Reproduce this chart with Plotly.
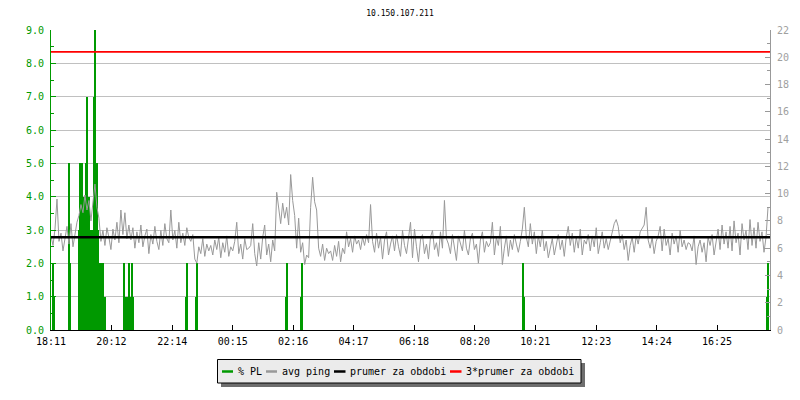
import plotly.graph_objects as go

# ---------------- data ----------------
title_text = "10.150.107.211"
tick_labels = ["18:11", "20:12", "22:14", "00:15", "02:16", "04:17",
               "06:18", "08:20", "10:21", "12:23", "14:24", "16:25"]
period_minutes = 1440          # 24 h shown
ping_step = 4                  # minutes between avg ping samples

# % packet loss (minute offset from 18:11, value in %)
pl_minutes = [4, 6, 36, 38,
              56, 58, 60, 62, 64, 66, 68, 70, 72, 74, 76, 78, 80,
              84, 86, 88, 90, 92, 94, 96, 98, 100, 102, 104, 106, 108,
              146, 148, 150, 154, 156, 158, 160, 162, 164,
              270, 272, 290, 292, 470, 472, 500, 502, 946, 948, 1434, 1436]
pl_values = [2.0, 1.0, 5.0, 2.0,
             3.0, 5.0, 3.0, 5.0, 3.0, 4.0, 3.0, 5.0, 7.0, 3.0, 4.0, 3.0, 3.0,
             3.0, 7.0, 9.0, 5.0, 5.0, 3.0, 2.0, 2.0, 2.0, 2.0, 2.0, 1.0, 1.0,
             2.0, 1.0, 1.0, 1.0, 2.0, 1.0, 1.0, 2.0, 1.0,
             1.0, 2.0, 1.0, 2.0, 1.0, 2.0, 1.0, 2.0, 2.0, 1.0, 1.0, 2.0]

# avg ping in ms, one value every ping_step minutes
avg_ping = [
    6.9, 6.2, 7.4, 9.6, 6.5, 7.1, 5.8, 6.9, 7.6, 6.3, 7.8, 6.1, 7.2, 7.9, 8.4, 9.2, 8.6, 9.9, 8.8, 9.5,
    8.0, 9.3, 10.7, 9.0, 8.2, 6.5, 7.3, 6.2, 7.5, 6.8, 5.9, 7.4, 6.6, 7.9, 6.4, 8.8, 7.0, 8.6, 6.7, 7.7,
    6.6, 7.5, 6.0, 7.2, 6.4, 7.7, 6.1, 6.9, 7.4, 5.6, 7.0, 6.3, 7.6, 6.5, 5.9, 7.3, 6.2, 7.8, 6.7, 6.4,
    8.8, 6.6, 7.3, 6.0, 7.9, 6.4, 7.1, 6.2, 7.5, 6.8, 6.5, 7.0, 5.2, 4.9, 6.1, 5.6, 6.7, 5.4, 6.3, 5.8,
    6.2, 5.5, 6.6, 5.9, 6.8, 5.3, 6.4, 5.7, 6.9, 5.4, 6.1, 5.8, 6.5, 7.9, 5.6, 6.3, 5.2, 6.7, 5.9, 6.0,
    6.2, 7.8, 5.6, 4.7, 6.4, 5.2, 6.8, 7.7, 5.5, 6.3, 5.0, 6.6, 5.8, 10.1, 8.8, 7.8, 9.3, 8.2, 9.0, 7.7,
    11.4, 9.5, 8.4, 6.0, 8.2, 5.7, 6.4, 4.8, 5.5, 5.3, 9.0, 11.2, 9.4, 8.8, 6.0, 5.4, 6.3, 5.1, 6.0, 5.6,
    5.8, 5.1, 6.2, 5.4, 6.5, 5.0, 6.0, 5.6, 7.2, 6.1, 6.7, 5.7, 6.9, 6.3, 6.6, 5.9, 6.8, 6.2, 7.0, 6.4,
    9.2, 6.5, 5.7, 7.1, 6.0, 6.8, 5.2, 6.6, 7.2, 5.5, 6.3, 6.9, 5.8, 7.0, 6.1, 5.4, 7.3, 6.2, 5.6, 6.7,
    7.9, 5.3, 7.4, 6.1, 5.0, 6.6, 7.0, 5.6, 6.3, 5.2, 6.8, 7.3, 5.9, 6.4, 5.4, 7.2, 6.0, 9.5, 6.7, 6.3,
    5.6, 7.0, 6.2, 5.1, 6.9, 6.4, 5.8, 7.3, 6.0, 5.5, 6.7, 7.1, 5.9, 6.3, 4.9, 6.6, 7.2, 5.7, 6.5, 6.1,
    6.4, 7.9, 5.5, 6.8, 6.2, 7.6, 4.8, 6.0, 6.9, 5.4, 6.6, 5.9, 7.0, 6.3, 5.7, 6.5, 7.4, 9.0, 6.8, 6.1,
    7.8, 6.3, 7.2, 5.6, 6.9, 6.1, 7.3, 5.8, 6.5, 5.3, 6.0, 6.7, 5.5, 6.4, 7.0, 5.9, 6.6, 5.4, 6.8, 7.6,
    6.2, 7.1, 5.7, 6.8, 6.0, 7.4, 5.5, 6.6, 6.3, 7.0, 5.8, 6.9, 6.1, 7.5, 5.6, 6.4, 7.2, 6.0, 6.7, 5.9,
    6.5, 7.3, 7.8, 8.1, 7.6, 6.4, 7.0, 5.9, 6.6, 5.1, 6.2, 6.8, 5.7, 6.9, 6.3, 7.2, 7.5, 7.7, 9.0, 6.6,
    6.0, 6.8, 5.6, 6.5, 6.9, 7.6, 5.8, 7.4, 6.2, 6.7, 5.5, 7.1, 6.3, 6.9, 5.7, 7.3, 6.1, 6.6, 5.9, 6.4,
    6.3, 5.8, 6.9, 4.8, 6.1, 6.6, 5.7, 6.4, 5.0, 6.8, 6.2, 7.0, 5.5, 6.5, 7.4, 5.9, 7.7, 6.3, 7.2, 6.0,
    7.6, 5.8, 8.0, 6.4, 7.1, 5.5, 7.8, 6.6, 7.3, 5.9, 8.1, 6.2, 7.5, 6.0, 7.9, 6.5, 7.2, 5.7, 6.8, 9.0,
]
ping_mean = 6.8                # "prumer za obdobi"
mean_factor = 3                # "3*prumer za obdobi"

legend_names = ["% PL", "avg ping", "prumer za obdobi", "3*prumer za obdobi"]

# ---------------- styles ----------------
GREEN = "#009900"
GRAY = "#999999"
FONT = "DejaVu Sans Mono"
BODY = 8                       # default page body margin around the plot div
W, H = 800 - 2 * BODY, 400 - 2 * BODY
PLOT_X0, PLOT_X1, PLOT_Y0, PLOT_Y1 = 51, 770, 30, 330   # page pixels of plot area
L, R = PLOT_X0 - BODY, 800 - BODY - PLOT_X1
T, B = PLOT_Y0 - BODY, H - (PLOT_Y0 - BODY) - (PLOT_Y1 - PLOT_Y0)
PW, PH = PLOT_X1 - PLOT_X0, PLOT_Y1 - PLOT_Y0


def to_minutes(label):
    h, m = map(int, label.split(":"))
    h0, m0 = map(int, tick_labels[0].split(":"))
    return ((h * 60 + m) - (h0 * 60 + m0)) % 1440


tick_vals = [to_minutes(t) for t in tick_labels]
ping_minutes = [i * ping_step for i in range(len(avg_ping))]

fig = go.Figure()
fig.add_trace(go.Bar(x=pl_minutes, y=pl_values, width=2, marker_color=GREEN,
                     marker_line_width=0, name=legend_names[0], showlegend=False))
fig.add_trace(go.Scatter(x=ping_minutes, y=avg_ping, mode="lines", yaxis="y2",
                         line=dict(color=GRAY, width=1), name=legend_names[1],
                         showlegend=False))
fig.add_trace(go.Scatter(x=[0, period_minutes], y=[ping_mean, ping_mean], mode="lines",
                         yaxis="y2", line=dict(color="black", width=2.5),
                         name=legend_names[2], showlegend=False))
fig.add_trace(go.Scatter(x=[0, period_minutes],
                         y=[mean_factor * ping_mean, mean_factor * ping_mean],
                         mode="lines", yaxis="y2", line=dict(color="#ff0000", width=1.8),
                         name=legend_names[3], showlegend=False))


def px_x(p):
    return (p - PLOT_X0) / PW


def px_y(p):
    return (PLOT_Y1 - p) / PH


shapes = []
annotations = []
# legend box with shadow
shapes.append(dict(type="rect", xref="paper", yref="paper",
                   x0=px_x(221), x1=px_x(585), y0=px_y(387), y1=px_y(363),
                   fillcolor="#6e6e6e", line=dict(width=0), layer="above"))
shapes.append(dict(type="rect", xref="paper", yref="paper",
                   x0=px_x(217.5), x1=px_x(581), y0=px_y(383), y1=px_y(359.5),
                   fillcolor="#ebebeb", line=dict(color="black", width=1), layer="above"))
leg_colors = [GREEN, GRAY, "black", "#ff0000"]
leg_line_x = [(222, 233), (266, 277), (334, 345.5), (450, 461.5)]
leg_text_x = [236, 280, 348, 464]
ly = 371.5
for name, col, (a, b), tx in zip(legend_names, leg_colors, leg_line_x, leg_text_x):
    shapes.append(dict(type="line", xref="paper", yref="paper",
                       x0=px_x(a), x1=px_x(b), y0=px_y(ly), y1=px_y(ly),
                       line=dict(color=col, width=2.5), layer="above"))
    annotations.append(dict(text=name, xref="paper", yref="paper",
                            x=px_x(tx), y=px_y(ly), xanchor="left", yanchor="middle",
                            showarrow=False, font=dict(family=FONT, size=10, color="black")))

fig.update_layout(
    width=W, height=H,
    margin=dict(l=L, r=R, t=T, b=B, pad=0, autoexpand=False),
    paper_bgcolor="white", plot_bgcolor="white",
    font=dict(family=FONT, size=10, color="black"),
    title=dict(text=title_text, x=0.5, xref="container", xanchor="center",
               y=1 - (13 - BODY) / H, yref="container", yanchor="middle",
               font=dict(family=FONT, size=8, color="black")),
    showlegend=False,
    bargap=0,
    xaxis=dict(range=[0, period_minutes], tickvals=tick_vals, ticktext=tick_labels,
               ticks="inside", ticklen=5, tickcolor="black", showline=True,
               linecolor="black", linewidth=1, showgrid=False, zeroline=False,
               tickfont=dict(family=FONT, size=10, color="black"),
               ticklabelstandoff=2),
    yaxis=dict(range=[0, 9], dtick=1, tickformat=".1f", ticks="inside", ticklen=5,
               tickcolor=GREEN, showline=True, linecolor=GREEN, linewidth=1,
               showgrid=True, gridcolor="#c0c0c0", gridwidth=1, zeroline=False,
               tickfont=dict(family=FONT, size=10, color=GREEN),
               minor=dict(dtick=0.5, ticks="inside", ticklen=3, tickcolor=GREEN,
                          showgrid=False),
               ticklabelstandoff=4),
    yaxis2=dict(range=[0, 22], dtick=2, overlaying="y", side="right", ticks="inside",
                ticklen=5, tickcolor=GRAY, showline=True, linecolor=GRAY, linewidth=1,
                showgrid=False, zeroline=False,
                tickfont=dict(family=FONT, size=10, color="#a0a0a0"),
                minor=dict(dtick=1, ticks="inside", ticklen=3, tickcolor=GRAY,
                           showgrid=False),
                ticklabelstandoff=4),
    shapes=shapes,
    annotations=annotations,
)

fig.write_html("out.html")
